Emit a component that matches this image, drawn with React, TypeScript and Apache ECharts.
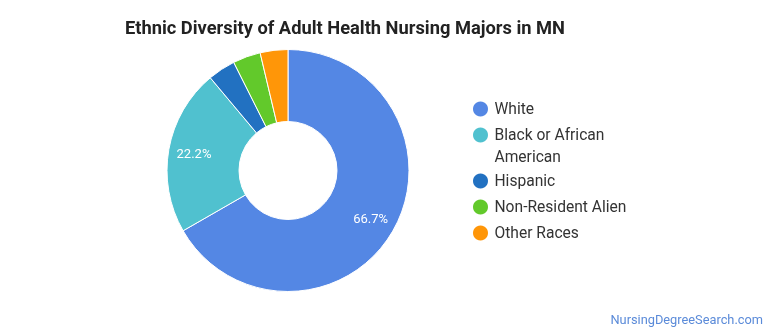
import React, { useEffect, useRef } from "react";
import * as echarts from "echarts";

const categories = ["White", "Black or African American", "Hispanic", "Non-Resident Alien", "Other Races"];
const values = [66.7, 22.2, 3.7, 3.7, 3.7];
const colors = ["#5487e4", "#50c1cf", "#2271c1", "#62c92b", "#ff9608"];
const titleText = "Ethnic Diversity of Adult Health Nursing Majors in MN";
const watermark = "NursingDegreeSearch.com";

export default function App() {
  const ref = useRef<HTMLDivElement>(null);
  useEffect(() => {
    if (!ref.current) return;
    const chart = echarts.init(ref.current, null, { renderer: "svg" });
    const data = categories.map((name, i) => ({ name, value: values[i], itemStyle: { color: colors[i] } }));
    const legendBase = {
      orient: "vertical" as const,
      left: 471,
      padding: 0,
      itemWidth: 18,
      itemHeight: 17,
      itemGap: 4,
      icon: "circle",
      selectedMode: false,
      textStyle: { fontFamily: "Roboto", fontSize: 15.6, color: "#333", lineHeight: 22 },
    };
    chart.setOption({
      animation: false,
      title: {
        text: titleText,
        left: 125,
        top: 17,
        padding: 0,
        textStyle: { fontFamily: "Roboto", fontSize: 18.3, fontWeight: "bold", color: "#222", lineHeight: 21 },
      },
      legend: [
        { ...legendBase, top: 98, data: [categories[0]] },
        {
          ...legendBase,
          top: 102,
          data: [categories[1]],
          formatter: (n: string) => (n === "Black or African American" ? "\nBlack or African\nAmerican" : n),
        },
        { ...legendBase, top: 170, data: categories.slice(2) },
      ],
      graphic: [
        {
          type: "text",
          right: 7,
          top: 313,
          style: { text: watermark, fontFamily: "Roboto", fontSize: 12.8, fill: "#5b8bd9" },
        },
      ],
      series: [
        {
          type: "pie",
          center: [288, 170.5],
          radius: [49, 121],
          startAngle: 90,
          percentPrecision: 1,
          itemStyle: { borderColor: "#fff", borderWidth: 1 },
          label: { show: false },
          labelLine: { show: false },
          emphasis: { disabled: true },
          data,
        },
        {
          type: "pie",
          center: [288, 170.5],
          radius: [64, 121],
          startAngle: 90,
          percentPrecision: 1,
          silent: true,
          itemStyle: { color: "rgba(0,0,0,0)", borderWidth: 0 },
          labelLine: { show: false },
          emphasis: { disabled: true },
          label: {
            show: true,
            position: "inside",
            fontFamily: "Roboto",
            fontSize: 13,
            color: "#fff",
            formatter: (p: any) => (p.percent > 10 ? `${p.percent}%` : ""),
          },
          data: categories.map((name, i) => ({ name, value: values[i] })),
        },
      ],
    });
    return () => chart.dispose();
  }, []);
  return <div ref={ref} style={{ position: "fixed", left: 0, top: 0, width: 770, height: 335 }} />;
}
